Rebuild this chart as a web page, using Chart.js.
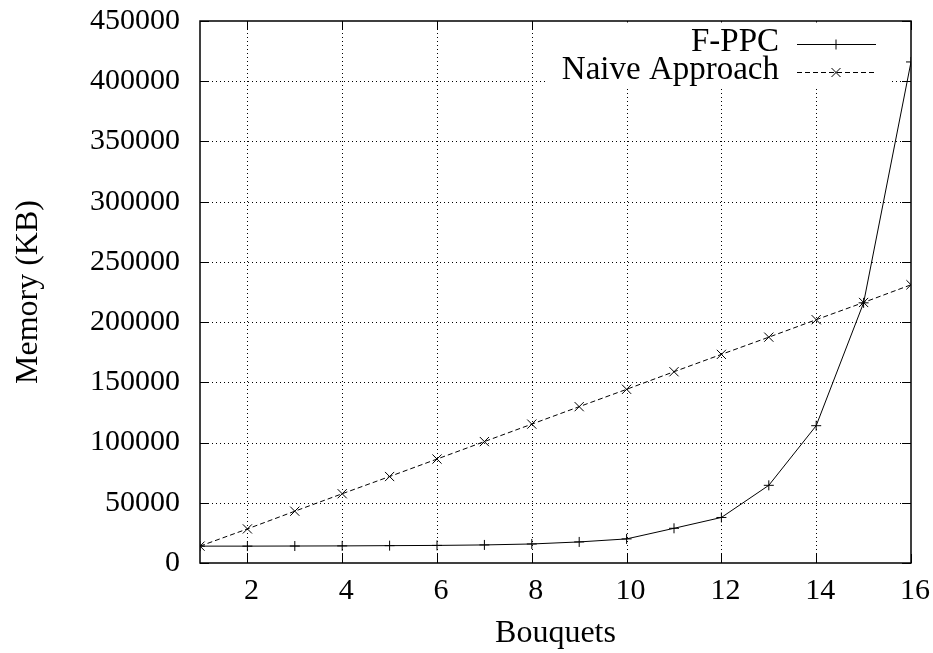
<!DOCTYPE html>
<html>
<head>
<meta charset="utf-8">
<script src="https://cdn.jsdelivr.net/npm/chart.js@4"></script>
<style>
  body { margin: 0; background: #fff; }
</style>
</head>
<body>
<canvas id="grafico" width="933" height="653"></canvas>
<script>
// dados
const bouquets = [1, 2, 3, 4, 5, 6, 7, 8, 9, 10, 11, 12, 13, 14, 15, 16];
const memoriaFPPC = [14000, 14000, 14100, 14200, 14400, 14600, 15000, 15800, 17500, 20000, 28800, 37800, 64500, 114000, 216000, 416000];
const memoriaNaive = [14000, 28300, 43000, 57500, 71800, 86300, 100800, 115300, 129800, 144200, 158800, 173200, 187500, 202000, 216300, 231000];
const xTicks = [2, 4, 6, 8, 10, 12, 14, 16];
const yTicks = [0, 50000, 100000, 150000, 200000, 250000, 300000, 350000, 400000, 450000];

const fonteTexto = "'Liberation Serif', serif";

// grade pontilhada, moldura, ticks internos e legenda estilo gnuplot
const estiloGnuplot = {
  id: "estiloGnuplot",
  beforeDatasetsDraw(chart) {
    const { ctx, chartArea: a, scales: { x, y } } = chart;
    ctx.save();
    ctx.strokeStyle = "#000";
    ctx.lineWidth = 1;
    ctx.setLineDash([1, 3]);
    xTicks.forEach(v => {
      if (v <= 1 || v >= 16) return;
      const px = Math.round(x.getPixelForValue(v)) + 0.5;
      ctx.beginPath(); ctx.moveTo(px, a.top); ctx.lineTo(px, a.bottom); ctx.stroke();
    });
    yTicks.forEach(v => {
      if (v <= 0 || v >= 450000) return;
      const py = Math.round(y.getPixelForValue(v)) + 0.5;
      ctx.beginPath(); ctx.moveTo(a.left, py); ctx.lineTo(a.right, py); ctx.stroke();
    });
    ctx.restore();
  },
  afterDatasetsDraw(chart) {
    const { ctx, chartArea: a, scales: { x, y } } = chart;
    ctx.save();
    ctx.strokeStyle = "#000";
    ctx.setLineDash([]);
    // ticks
    ctx.lineWidth = 1;
    const tl = 9;
    xTicks.forEach(v => {
      const px = Math.round(x.getPixelForValue(v)) + 0.5;
      ctx.beginPath();
      ctx.moveTo(px, a.bottom); ctx.lineTo(px, a.bottom - tl);
      ctx.moveTo(px, a.top); ctx.lineTo(px, a.top + tl);
      ctx.stroke();
    });
    yTicks.forEach(v => {
      const py = Math.round(y.getPixelForValue(v)) + 0.5;
      ctx.beginPath();
      ctx.moveTo(a.left, py); ctx.lineTo(a.left + tl, py);
      ctx.moveTo(a.right, py); ctx.lineTo(a.right - tl, py);
      ctx.stroke();
    });

    // legenda
    ctx.fillStyle = "#fff";
    ctx.fillRect(548, a.top + 1.5, 344, 66);
    ctx.fillStyle = "#000";
    ctx.font = "33px " + fonteTexto;
    ctx.textAlign = "right";
    ctx.textBaseline = "middle";
    const itens = [
      { texto: "F-PPC", y: 44, dash: [], marca: "cross" },
      { texto: "Naive Approach", y: 72, dash: [5, 3], marca: "crossRot" }
    ];
    itens.forEach(it => {
      ctx.fillText(it.texto, 779, it.y - 2);
      ctx.lineWidth = 1;
      ctx.setLineDash(it.dash);
      ctx.beginPath(); ctx.moveTo(797, it.y + 0.5); ctx.lineTo(876, it.y + 0.5); ctx.stroke();
      ctx.setLineDash([]);
      ctx.beginPath();
      if (it.marca === "cross") {
        ctx.moveTo(831, it.y + 0.5); ctx.lineTo(841, it.y + 0.5);
        ctx.moveTo(836, it.y - 4.5); ctx.lineTo(836, it.y + 5.5);
      } else {
        ctx.moveTo(831.5, it.y - 4); ctx.lineTo(840.5, it.y + 5);
        ctx.moveTo(831.5, it.y + 5); ctx.lineTo(840.5, it.y - 4);
      }
      ctx.stroke();
    });

    // moldura
    ctx.lineWidth = 1.5;
    ctx.strokeRect(a.left, a.top, a.right - a.left, a.bottom - a.top);
    ctx.restore();
  }
};

new Chart(document.getElementById("grafico").getContext("2d"), {
  type: "line",
  data: {
    labels: bouquets,
    datasets: [
      {
        label: "F-PPC",
        data: bouquets.map((b, i) => ({ x: b, y: memoriaFPPC[i] })),
        borderColor: "#000",
        borderWidth: 1,
        pointStyle: "cross",
        pointRadius: 5,
        pointBorderColor: "#000",
        pointBorderWidth: 1,
        fill: false,
        tension: 0
      },
      {
        label: "Naive Approach",
        data: bouquets.map((b, i) => ({ x: b, y: memoriaNaive[i] })),
        borderColor: "#000",
        borderWidth: 1,
        borderDash: [5, 3],
        pointStyle: "crossRot",
        pointRadius: 6.5,
        pointBorderColor: "#000",
        pointBorderWidth: 1,
        fill: false,
        tension: 0
      }
    ]
  },
  options: {
    responsive: false,
    devicePixelRatio: 1,
    animation: false,
    layout: { padding: { left: 0, top: 21, right: 22, bottom: 0 } },
    plugins: {
      legend: { display: false },
      tooltip: { enabled: false }
    },
    scales: {
      x: {
        type: "linear",
        min: 1,
        max: 16,
        afterBuildTicks: s => { s.ticks = xTicks.map(v => ({ value: v })); },
        afterFit: s => { s.height = 90; s.paddingLeft = 0; s.paddingRight = 0; },
        grid: { display: false },
        border: { display: false },
        ticks: {
          color: "#000",
          padding: 2,
          labelOffset: 4,
          maxRotation: 0,
          font: { family: fonteTexto, size: 30 }
        },
        title: {
          display: true,
          text: "Bouquets",
          color: "#000",
          padding: { top: 0, bottom: 0 },
          font: { family: fonteTexto, size: 32 }
        }
      },
      y: {
        min: 0,
        max: 450000,
        afterBuildTicks: s => { s.ticks = yTicks.map(v => ({ value: v })); },
        afterFit: s => { s.width = 200; s.paddingTop = 0; s.paddingBottom = 0; },
        grid: { display: false },
        border: { display: false },
        ticks: {
          color: "#000",
          padding: 12,
          callback: v => String(v),
          font: { family: fonteTexto, size: 30 }
        },
        title: {
          display: true,
          text: "Memory (KB)",
          color: "#000",
          padding: { top: 9, bottom: 0 },
          font: { family: fonteTexto, size: 32 }
        }
      }
    }
  },
  plugins: [estiloGnuplot]
});
</script>
</body>
</html>
